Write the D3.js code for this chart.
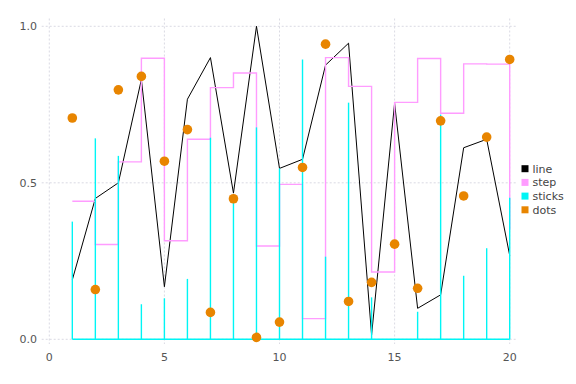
<!DOCTYPE html>
<html>
<head>
<meta charset="utf-8">
<script src="https://cdn.jsdelivr.net/npm/d3@7"></script>
<style>
  body { margin: 0; background: #fff; }
  svg { display: block; font-family: "DejaVu Sans", sans-serif; }
</style>
</head>
<body>
<div id="main"></div>
<script>
var W = 576, H = 384;

// data, x = 1..20
var xs = d3.range(1, 21);
var lineVals = [0.19, 0.45, 0.50, 0.83, 0.168, 0.767, 0.90, 0.467, 1.0, 0.546,
    0.575, 0.876, 0.946, 0.014, 0.754, 0.099, 0.142, 0.612, 0.639, 0.268];
var stepVals = [0.441, 0.303, 0.567, 0.898, 0.315, 0.639, 0.804, 0.851, 0.298, 0.495,
    0.066, 0.90, 0.808, 0.215, 0.757, 0.897, 0.722, 0.88, 0.879, 0.35];
var stickVals = [0.376, 0.642, 0.586, 0.112, 0.131, 0.193, 0.644, 0.455, 0.677, 0.546,
    0.894, 0.264, 0.756, 0.134, 0.0, 0.088, 0.718, 0.203, 0.291, 0.452];
var dotVals = [0.707, 0.159, 0.797, 0.840, 0.569, 0.670, 0.086, 0.449, 0.006, 0.055,
    0.549, 0.943, 0.121, 0.182, 0.304, 0.163, 0.698, 0.458, 0.646, 0.894];

var xTicks = [0, 5, 10, 15, 20];
var yTicks = [0, 0.5, 1.0];
var seriesNames = ["line", "step", "sticks", "dots"];
var seriesColors = ["#000000", "#ff9cff", "#00f5f5", "#e88500"];

var plot = { left: 41.7, right: 516, top: 18.5, bottom: 344 };

var x = d3.scaleLinear().domain([0, 20]).range([49.3, 509.7]);
var y = d3.scaleLinear().domain([0, 1]).range([339.3, 26.3]);

var svg = d3.select("#main").append("svg")
    .attr("width", W)
    .attr("height", H);

// grid
var grid = svg.append("g")
    .attr("stroke", "#d0d0dc")
    .attr("stroke-width", 0.8)
    .attr("stroke-dasharray", "2,2");
grid.selectAll("line.vx")
    .data(xTicks)
    .enter()
    .append("line")
    .attr("x1", (d) => x(d)).attr("x2", (d) => x(d))
    .attr("y1", plot.top).attr("y2", plot.bottom);
grid.selectAll("line.hy")
    .data(yTicks)
    .enter()
    .append("line")
    .attr("x1", plot.left).attr("x2", plot.right)
    .attr("y1", (d) => y(d)).attr("y2", (d) => y(d));

// tick labels
svg.append("g")
    .selectAll("text")
    .data(xTicks)
    .enter()
    .append("text")
    .attr("x", (d) => x(d))
    .attr("y", 361)
    .attr("text-anchor", "middle")
    .attr("font-size", 11)
    .attr("fill", "#555")
    .text((d) => d);
svg.append("g")
    .selectAll("text")
    .data(yTicks)
    .enter()
    .append("text")
    .attr("x", 37)
    .attr("y", (d) => y(d) + 4)
    .attr("text-anchor", "end")
    .attr("font-size", 11)
    .attr("fill", "#555")
    .text((d) => d3.format(".1f")(d));

// line
var linePts = xs.map((d, i) => [d, lineVals[i]]);
svg.append("path")
    .attr("d", d3.line().x((d) => x(d[0])).y((d) => y(d[1]))(linePts))
    .attr("fill", "none")
    .attr("stroke", seriesColors[0])
    .attr("stroke-width", 1);

// step (post)
var stepPts = xs.map((d, i) => [d, stepVals[i]]);
svg.append("path")
    .attr("d", d3.line().curve(d3.curveStepAfter).x((d) => x(d[0])).y((d) => y(d[1]))(stepPts))
    .attr("fill", "none")
    .attr("stroke", seriesColors[1])
    .attr("stroke-width", 1.4);

// sticks
var sticks = svg.append("g").attr("stroke", seriesColors[2]).attr("stroke-width", 1.4);
sticks.append("line")
    .attr("x1", x(xs[0])).attr("x2", x(xs[xs.length - 1]))
    .attr("y1", y(0)).attr("y2", y(0));
sticks.selectAll("line.s")
    .data(xs)
    .enter()
    .append("line")
    .attr("x1", (d) => x(d)).attr("x2", (d) => x(d))
    .attr("y1", y(0))
    .attr("y2", (d, i) => y(stickVals[i]));

// dots
svg.append("g")
    .selectAll("circle")
    .data(xs)
    .enter()
    .append("circle")
    .attr("cx", (d) => x(d))
    .attr("cy", (d, i) => y(dotVals[i]))
    .attr("r", 4.8)
    .attr("fill", seriesColors[3]);

// legend
var legend = svg.append("g")
    .selectAll("g")
    .data(seriesNames)
    .enter()
    .append("g")
    .attr("transform", (d, i) => "translate(521.5," + (168.7 + i * 13.7) + ")");
legend.append("rect")
    .attr("x", 0).attr("y", -3.5)
    .attr("width", 7).attr("height", 7)
    .attr("fill", (d, i) => seriesColors[i]);
legend.append("text")
    .attr("x", 11)
    .attr("y", 4)
    .attr("font-size", 11)
    .attr("fill", "#444")
    .text((d) => d);
</script>
</body>
</html>
